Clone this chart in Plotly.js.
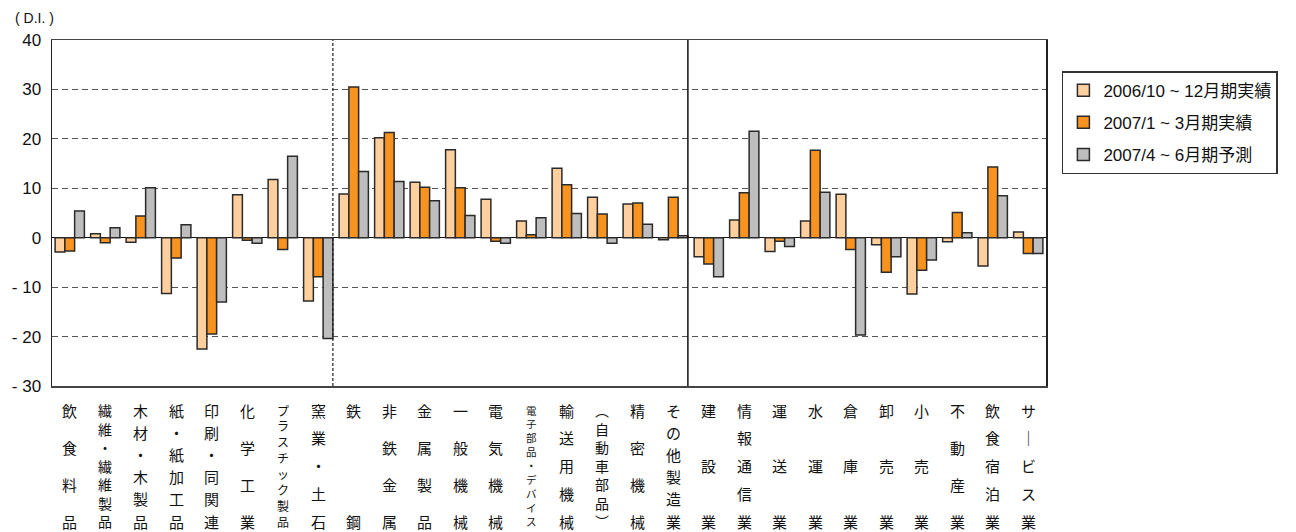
<!DOCTYPE html>
<html>
<head>
<meta charset="utf-8">
<script src="https://cdn.plot.ly/plotly-3.0.1.min.js"></script>
<style>html,body{margin:0;padding:0;background:#fff;}#chart{width:1296px;height:532px;}</style>
</head>
<body>
<div id="chart"></div>
<script>
// ---- data ----
const categories = ["飲食料品","繊維・繊維製品","木材・木製品","紙・紙加工品","印刷・同関連","化学工業","プラスチック製品","窯業・土石","鉄鋼","非鉄金属","金属製品","一般機械","電気機械","電子部品・デバイス","輸送用機械","(自動車部品)","精密機械","その他製造業","建設業","情報通信業","運送業","水運業","倉庫業","卸売業","小売業","不動産業","飲食宿泊業","サービス業"];
const verticalLabels = ["飲食料品","繊維・繊維製品","木材・木製品","紙・紙加工品","印刷・同関連","化学工業","プラスチック製品","窯業・土石","鉄鋼","非鉄金属","金属製品","一般機械","電気機械","電子部品・デバイス","輸送用機械","︵自動車部品︶","精密機械","その他製造業","建設業","情報通信業","運送業","水運業","倉庫業","卸売業","小売業","不動産業","飲食宿泊業","サ｜ビス業"];
const seriesNames = ["2006/10 ~ 12月期実績","2007/1 ~ 3月期実績","2007/4 ~ 6月期予測"];
const values2006Q4 = [-2.9, 0.8, -0.9, -11.3, -22.5, 8.7, 11.8, -12.8, 8.85, 20.2, 11.2, 17.8, 7.8, 3.4, 14.05, 8.2, 6.8, -0.4, -3.85, 3.6, -2.8, 3.4, 8.8, -1.4, -11.4, -0.8, -5.7, 1.15];
const values2007Q1 = [-2.7, -1.0, 4.4, -4.1, -19.5, -0.5, -2.4, -7.9, 30.5, 21.3, 10.2, 10.1, -0.7, 0.6, 10.7, 4.8, 7.0, 8.2, -5.3, 9.1, -0.7, 17.7, -2.4, -7.0, -6.6, 5.1, 14.3, -3.2];
const values2007Q2 = [5.4, 2.0, 10.1, 2.6, -13.0, -1.1, 16.5, -20.4, 13.4, 11.35, 7.5, 4.5, -1.1, 4.05, 4.9, -1.1, 2.7, 0.4, -7.9, 21.55, -1.8, 9.2, -19.7, -3.85, -4.5, 1.0, 8.5, -3.2];
const yTickVals = [40, 30, 20, 10, 0, -10, -20, -30];
const yTickText = ["40", "30", "20", "10", "0", "- 10", "- 20", "- 30"];
const colors = ["#FFD09E", "#F7931E", "#BEBEBE"];

// ---- layout constants ----
const W = 1296, H = 532;
const M = {l: 52, r: 250, t: 40, b: 146};
const plotH = H - M.t - M.b;
const latin = "Liberation Sans, Arial, Noto Sans CJK JP, sans-serif";
const cjk = "Noto Sans CJK JP, sans-serif";

const allSeries = [values2006Q4, values2007Q1, values2007Q2];
const traces = allSeries.map((vals, k) => ({
  type: "bar",
  name: seriesNames[k],
  x: categories,
  y: vals,
  legendgroup: "g" + k,
  marker: {color: colors[k], line: {color: "#2a2a2a", width: 1.5}},
  hoverinfo: "x+y+name"
}));

// vertical, justified category labels
const annotations = [];
const labelTopPx = 410, labelBottomPx = 521;
verticalLabels.forEach((lab, ci) => {
  const chars = Array.from(lab);
  const n = chars.length;
  const step = n > 1 ? (labelBottomPx - labelTopPx) / (n - 1) : 0;
  const fs = Math.min(15, step / 1.32 || 15);
  chars.forEach((ch, i) => {
    const py = labelTopPx + i * step;
    annotations.push({
      x: categories[ci], xref: "x",
      y: (M.t + plotH - py) / plotH, yref: "paper",
      text: ch, showarrow: false,
      xanchor: "center", yanchor: "middle", borderpad: 0,
      font: {family: cjk, size: fs, color: "#111"}
    });
  });
});
annotations.push({
  x: 0, xref: "paper", xanchor: "right", xshift: 4,
  y: 1, yref: "paper", yanchor: "bottom", yshift: 12,
  text: "( D.I. )", showarrow: false,
  font: {family: latin, size: 14, color: "#111"}
});

// group dividers right after the bar groups of 窯業・土石 and その他製造業
const barGap = 0.175;
const halfGroup = (1 - barGap) / 2;
const idxA = categories.indexOf("窯業・土石");
const idxB = categories.indexOf("その他製造業");
const shapes = [
  {type: "line", xref: "x", yref: "paper", x0: idxA + halfGroup, x1: idxA + halfGroup, y0: 0, y1: 1,
   line: {color: "#222", width: 1.2, dash: "3px,2px"}},
  {type: "line", xref: "x", yref: "paper", x0: idxB + halfGroup, x1: idxB + halfGroup, y0: 0, y1: 1,
   line: {color: "#111", width: 1.5}}
];

const layout = {
  width: W, height: H,
  margin: M,
  paper_bgcolor: "#fff", plot_bgcolor: "#fff",
  barmode: "group", bargap: barGap, bargroupgap: 0,
  showlegend: true,
  legend: {
    x: 1.016, xanchor: "left", y: 0.91, yanchor: "top",
    font: {family: latin, size: 17, color: "#111"},
    bordercolor: "#333", borderwidth: 1.5, bgcolor: "#fff",
    traceorder: "grouped", tracegroupgap: 7,
    itemwidth: 30
  },
  xaxis: {
    type: "category",
    showticklabels: false, ticks: "",
    showgrid: false, zeroline: false,
    showline: true, linecolor: "#444", linewidth: 1.5, mirror: true,
    range: [-0.5, categories.length - 0.5]
  },
  yaxis: {
    range: [-30, 40],
    tickvals: yTickVals, ticktext: yTickText,
    tickfont: {family: latin, size: 17, color: "#111"},
    ticks: "", ticklabelstandoff: 6,
    showgrid: true, gridcolor: "#555", gridwidth: 1, griddash: "6px,4px",
    zeroline: true, zerolinecolor: "#111", zerolinewidth: 1.5,
    showline: true, linecolor: "#222", linewidth: 1.5, mirror: true
  },
  annotations: annotations,
  shapes: shapes,
  font: {family: latin}
};

Plotly.newPlot("chart", traces, layout, {displayModeBar: false, staticPlot: true});
</script>
</body>
</html>
